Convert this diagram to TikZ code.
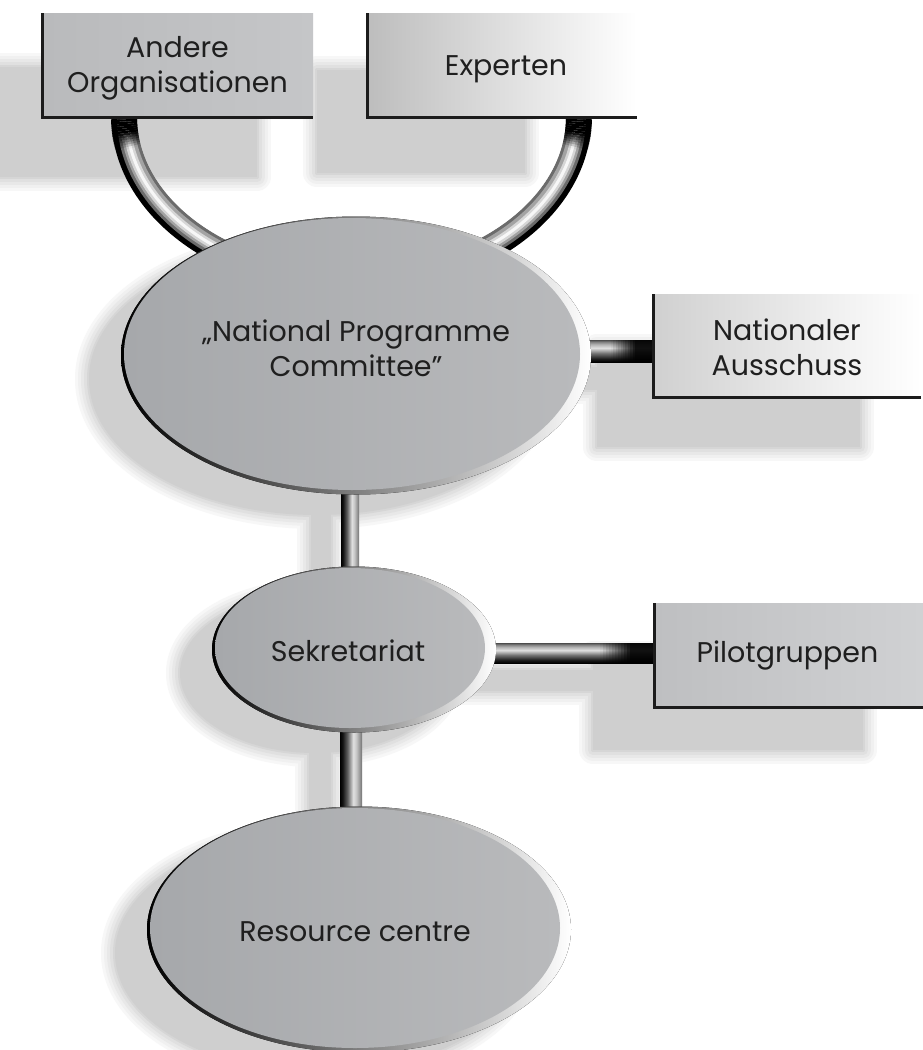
\documentclass[tikz,border=0pt]{standalone}
\usepackage{fontspec}
\setmainfont{Poppins}
\usetikzlibrary{shapes.geometric,calc}

\pgfdeclarelayer{bglayer}
\pgfdeclarelayer{shadowlayer}
\pgfdeclarelayer{tubelayer}
\pgfsetlayers{bglayer,shadowlayer,tubelayer,main}

\definecolor{ink}{HTML}{1F1F1F}
\definecolor{faceA}{HTML}{A6A8AB}
\definecolor{faceB}{HTML}{B9BABC}
\definecolor{edgedark}{HTML}{1C1C1C}
\definecolor{andA}{HTML}{B9BABC}
\definecolor{andB}{HTML}{C5C6C8}
\definecolor{expA}{HTML}{BDBDBD}
\definecolor{expM}{HTML}{D0D0D0}
\definecolor{natA}{HTML}{D0D0D0}
\definecolor{natM}{HTML}{E4E4E4}
\definecolor{pilA}{HTML}{BEBFC1}
\definecolor{pilB}{HTML}{D0D1D3}

% cylindrical shading for vertical and horizontal tubes
\pgfdeclarehorizontalshading{tubev}{100bp}{color(0bp)=(black); color(25bp)=(black);
  color(31bp)=(black!92); color(42bp)=(black!62); color(55bp)=(black!12);
  color(62bp)=(black!22); color(70bp)=(black!42); color(75bp)=(black!55); color(100bp)=(black!55)}
\pgfdeclareverticalshading{tubeh}{100bp}{color(0bp)=(black); color(25bp)=(black);
  color(32bp)=(black!90); color(45bp)=(black!55); color(57bp)=(black!12);
  color(65bp)=(black!30); color(71bp)=(black!50); color(75bp)=(black!70); color(100bp)=(black!70)}

\newcommand\lblfont{\fontsize{28.5}{35}\selectfont}

\tikzset{
  boxnode/.style={rectangle, inner sep=0pt, outer sep=0pt},
  boxedge/.style={draw=edgedark, line width=3pt, line join=miter},
  discface/.style={ellipse, inner sep=0pt, outer sep=0pt, left color=faceA, right color=faceB},
  rim/.style={left color=black, middle color=black!72, right color=white},
  lbl/.style={inner sep=0pt, text=ink, font=\lblfont, align=center},
}

% disc: name, x, y, x radius, y radius
\newcommand\disc[5]{%
  \fill[rim] (#2+4,#3+1.5) ellipse[x radius={#4pt+7pt}, y radius={#5pt+3pt}];
  \node[discface, minimum width={2*#4pt}, minimum height={2*#5pt}] (#1) at (#2,#3) {};
}

% all shadow outlines, drawn with the style given
\newcommand\shadowshapes[1]{%
  \path[#1] ($(andere.north west)+(-52,54)$) rectangle ($(andere.south east)+(-56,60)$);
  \path[#1] ($(experten.north west)+(-50,57)$) rectangle ($(experten.south east)+(-112,56)$);
  \path[#1] ($(nat.north west)+(-56,54)$) rectangle ($(nat.south east)+(-61,50)$);
  \path[#1] ($(pilot.north west)+(-61,52)$) rectangle ($(pilot.south east)+(-60,43)$);
  \path[#1] ($(npc.center)+(-35,25)$) ellipse[x radius=228pt, y radius=136pt];
  \path[#1] ($(sek.center)+(-35,25)$) ellipse[x radius=135pt, y radius=80pt];
  \path[#1] ($(rc.center)+(-35,25)$) ellipse[x radius=205pt, y radius=120pt];
  \path[#1] ($(npc.south)+(-41,20)$) rectangle ($(sek.north)+(-19,28)$);
  \path[#1] ($(sek.south)+(-41,20)$) rectangle ($(rc.north -| sek.south)+(-19,28)$);
  \path[#1] ($(npc.east)+(-40,13)$) rectangle ($(npc.east -| nat.west)+(-30,36)$);
  \path[#1] ($(sek.east)+(-40,22)$) rectangle ($(sek.east -| pilot.west)+(-30,43)$);
}

% one layer of the curved tube: offset, width, colour
\newcommand\utube[3]{%
  \draw[line width=#2pt, #3] ($(ua)-(#1,0)$) arc[start angle=180, end angle=360,
    x radius={227.5pt+(#1pt)}, y radius={165pt+(#1pt)}];
}

\begin{document}
\begin{tikzpicture}[x=1pt, y=-1pt]
\useasboundingbox (0,0) rectangle (923,1050);

% ---- boxes
\node[boxnode, minimum width=271pt, minimum height=104pt, left color=andA, right color=andB]
  (andere) at (177.5,65) {};
\draw[boxedge] (andere.north west) -- (andere.south west) -- (andere.south east);
\node[lbl] at ($(andere.center)+(0,3)$) {Andere\\Organisationen};

\node[boxnode, minimum width=270pt, minimum height=104pt, left color=expA, middle color=expM, right color=white]
  (experten) at (502,65) {};
\draw[boxedge] (experten.north west) -- (experten.south west) -- (experten.south east);
\node[lbl] at ($(experten.center)+(4,4)$) {Experten};

\node[boxnode, minimum width=268pt, minimum height=103pt, left color=natA, middle color=natM, right color=white]
  (nat) at (787,345.5) {};
\draw[boxedge] (nat.north west) -- (nat.south west) -- (nat.south east);
\node[lbl] at ($(nat.center)+(0,2)$) {Nationaler\\Ausschuss};

\node[boxnode, minimum width=269pt, minimum height=104pt, left color=pilA, right color=pilB]
  (pilot) at (788.5,655) {};
\draw[boxedge] (pilot.north west) -- (pilot.south west) -- (pilot.south east);
\node[lbl] at ($(pilot.center)+(-1,0)$) {Pilotgruppen};

% ---- discs
\disc{npc}{352}{354}{228}{136}
\node[lbl] at ($(npc.center)+(4,-6)$) {„National Programme\\Committee”};
\disc{sek}{350}{648}{135}{80}
\node[lbl] at ($(sek.center)+(-2,3)$) {Sekretariat};
\disc{rc}{355}{928}{205}{120}
\node[lbl] at ($(rc.center)+(0,4)$) {Resource centre};

% ---- background and soft shadows
\begin{pgfonlayer}{bglayer}
  \fill[white] (0,0) rectangle (923,1050);
\end{pgfonlayer}
\begin{pgfonlayer}{shadowlayer}
  \foreach \w/\g in {28/3, 22/6, 16/9, 10/12, 4/16} {
    \shadowshapes{draw=black!\g, line width=\w pt, line join=round}
  }
  \shadowshapes{fill=black!19}
\end{pgfonlayer}

% ---- connecting tubes
\begin{pgfonlayer}{tubelayer}
  % curved tube joining the two upper boxes behind the committee disc
  \coordinate (ua) at ($(andere.south west)+(82,0)$);
  \coordinate (ub) at ($(experten.south west)+(212,0)$);
  \coordinate (uc) at ($(ua)!0.5!(ub)$);
  \utube{0}{25}{black}
  \utube{-3}{20}{black!58}
  \utube{-3}{14}{black!36}
  \utube{-2.5}{8}{black!16}
  \utube{-2.5}{3}{black!3}
  \foreach \i in {0,...,13} {
    \pgfmathsetmacro\op{min(1,1.9-\i/7)}
    \pgfmathsetmacro\aa{180+0.8*\i}
    \pgfmathsetmacro\bb{360-0.8*\i}
    \draw[line width=26pt, black, opacity=\op] ($(uc)+({227.5*cos(\aa)},{-165*sin(\aa)})$)
      arc[start angle=\aa, end angle=\aa+0.8, x radius=227.5pt, y radius=165pt];
    \draw[line width=26pt, black, opacity=\op] ($(uc)+({227.5*cos(\bb)},{-165*sin(\bb)})$)
      arc[start angle=\bb, end angle=\bb-0.8, x radius=227.5pt, y radius=165pt];
  }

  % vertical tubes
  \fill[shading=tubev] ($(npc.south)+(-11,-8)$) rectangle ($(sek.north)+(9,8)$);
  \fill[shading=tubev] ($(sek.south)+(-10,-8)$) rectangle ($(rc.north -| sek.south)+(12,8)$);

  % horizontal tubes, darkening where they enter the boxes
  \coordinate (h1e) at ($(npc.east -| nat.west)+(0,-3)$);
  \fill[shading=tubeh] ($(npc.east)+(-10,-14)$) rectangle ($(h1e)+(0,11)$);
  \foreach \i in {0,...,9} {
    \fill[black, opacity=\i/11+0.04] ($(h1e)+(-42+2.4*\i,-11)$) rectangle ($(h1e)+(-39.6+2.4*\i,11)$);
  }
  \fill[black, opacity=0.92] ($(h1e)+(-18,-11)$) rectangle ($(h1e)+(0,11)$);

  \coordinate (h2e) at ($(sek.east -| pilot.west)+(0,5)$);
  \fill[shading=tubeh] ($(sek.east)+(-10,-5)$) rectangle ($(h2e)+(0,10)$);
  \foreach \i in {0,...,9} {
    \fill[black, opacity=\i/11+0.04] ($(h2e)+(-54+3*\i,-10)$) rectangle ($(h2e)+(-51+3*\i,10)$);
  }
  \fill[black, opacity=0.92] ($(h2e)+(-24,-10)$) rectangle ($(h2e)+(0,10)$);
\end{pgfonlayer}
\end{tikzpicture}
\end{document}
